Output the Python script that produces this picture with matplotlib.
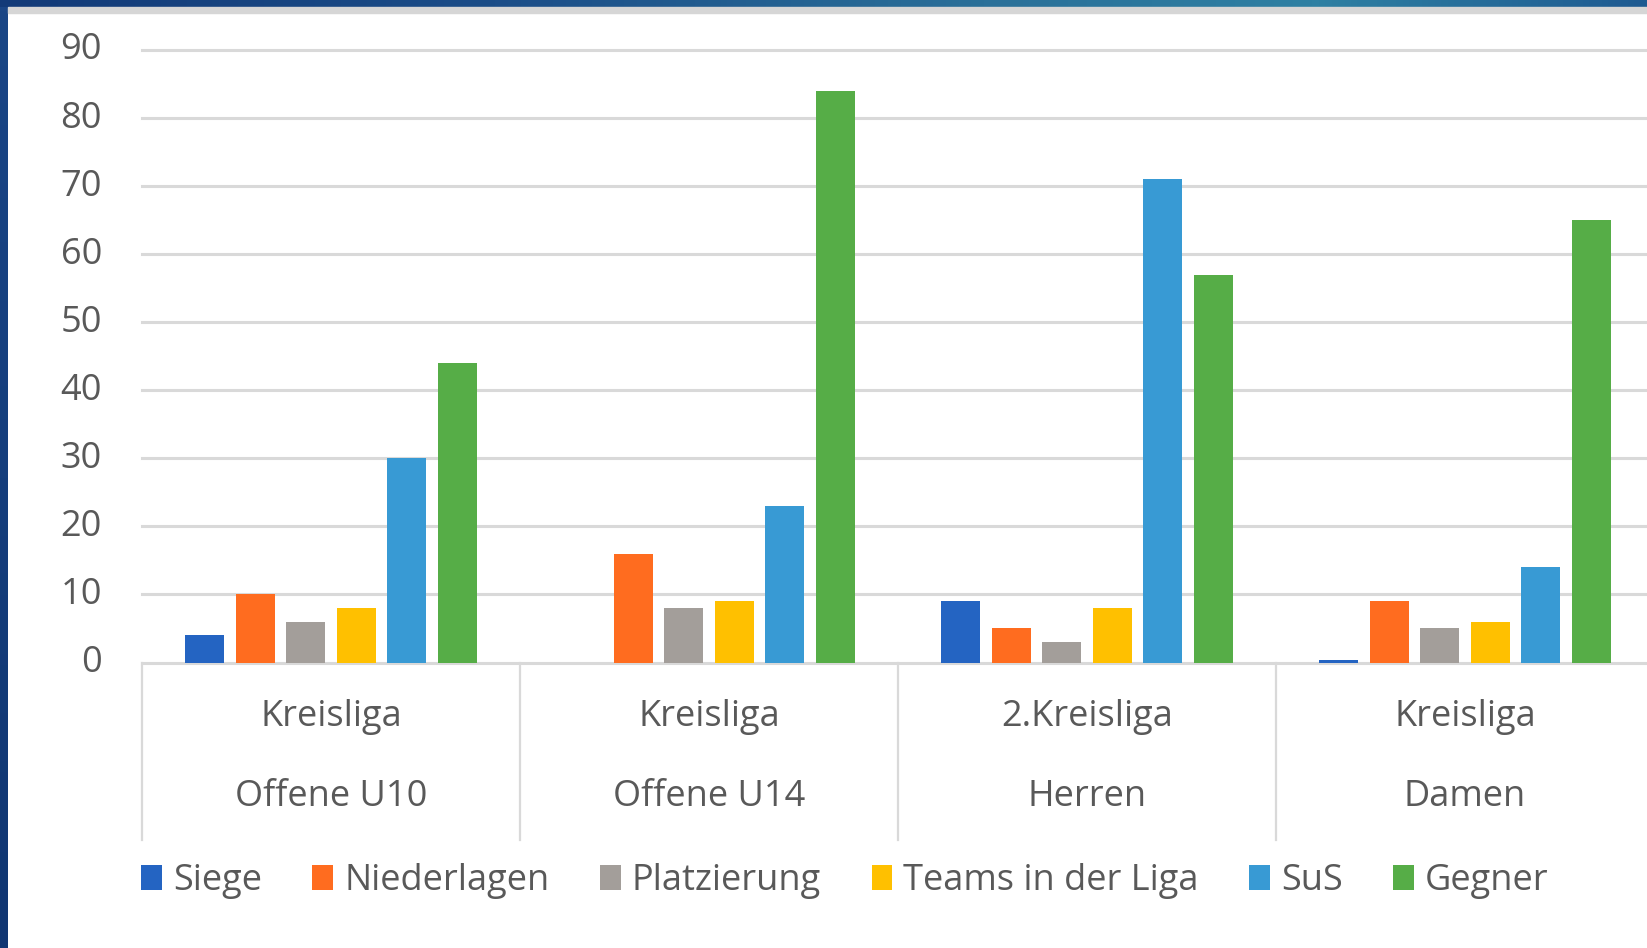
import matplotlib
matplotlib.use("Agg")
import matplotlib.pyplot as plt
import numpy as np
from matplotlib.patches import Rectangle, Patch
from matplotlib.colors import LinearSegmentedColormap
import matplotlib.transforms as mtransforms

# ---------------- data ----------------
league = ["Kreisliga", "Kreisliga", "2.Kreisliga", "Kreisliga"]
team = ["Offene U10", "Offene U14", "Herren", "Damen"]
series_names = ["Siege", "Niederlagen", "Platzierung", "Teams in der Liga", "SuS", "Gegner"]
siege = [4, 0, 9, 0.3]
niederlagen = [10, 16, 5, 9]
platzierung = [6, 8, 3, 5]
teams_in_liga = [8, 9, 8, 6]
sus = [30, 23, 71, 14]
gegner = [44, 84, 57, 65]
y_ticks = [0, 10, 20, 30, 40, 50, 60, 70, 80, 90]

colors = ["#2464C2", "#FF6C1F", "#A39E9A", "#FFC000", "#389AD4", "#56AD47"]

plt.rcParams['font.family'] = ['Open Sans', 'DejaVu Sans']

W, H = 1647, 948
fig = plt.figure(figsize=(W / 100, H / 100), dpi=100)
fig.patch.set_facecolor('white')

TEXT = '#595959'
GRID = '#D9D9D9'
FS = 26

# axes geometry (pixels)
x0, x1 = 142, 1654
y_zero, y_top = 662.5, 50
ax = fig.add_axes([x0 / W, (H - y_zero) / H, (x1 - x0) / W, (y_zero - y_top) / H])
ax.set_facecolor('none')

values = [siege, niederlagen, platzierung, teams_in_liga, sus, gegner]
x = np.arange(len(team))
n = len(values)
step, width = 0.1336, 0.103
for i, (vals, col, name) in enumerate(zip(values, colors, series_names)):
    ax.bar(x + (i - (n - 1) / 2) * step, vals, width, color=col, label=name, zorder=3)

ax.set_xlim(-0.5, 3.5)
ax.set_ylim(0, 90)
ax.set_yticks(y_ticks)
ax.set_xticks([])
for s in ax.spines.values():
    s.set_visible(False)
ax.yaxis.grid(True, color=GRID, lw=2.2)
for gl in ax.yaxis.get_gridlines():
    gl.set_clip_on(False)
ax.set_axisbelow(True)
ax.tick_params(axis='y', length=0, pad=28.8, labelsize=FS, labelcolor=TEXT)
off = mtransforms.ScaledTranslation(0, 0.04, fig.dpi_scale_trans)
for lbl in ax.get_yticklabels():
    lbl.set_transform(lbl.get_transform() + off)

# category axis (two-level)
trans = mtransforms.blended_transform_factory(ax.transData, ax.transAxes)
ah = y_zero - y_top
for b in np.arange(-0.5, len(team), 1.0):
    ax.plot([b, b], [0, -(840 - y_zero) / ah], transform=trans, color=GRID,
            lw=1.6, clip_on=False, zorder=1)
for i, (l1, l2) in enumerate(zip(league, team)):
    ax.text(i, -(717 - y_zero) / ah, l1, transform=trans, ha='center', va='center',
            fontsize=FS, color=TEXT)
    ax.text(i, -(797 - y_zero) / ah, l2, transform=trans, ha='center', va='center',
            fontsize=FS, color=TEXT)

# legend
handles = [Patch(facecolor=c, edgecolor='none') for c in colors]
leg = fig.legend(handles, series_names, loc='center left', bbox_to_anchor=(141 / W, 1 - 881 / H),
                 ncol=6, frameon=False, fontsize=FS, handlelength=0.58, handleheight=0.7,
                 handletextpad=0.3, columnspacing=1.4, borderpad=0, borderaxespad=0,
                 labelcolor=TEXT)

# decorative frame: top gradient band, left band, grey strip
cmap_top = LinearSegmentedColormap.from_list('top', [(0, '#123a78'), (0.3, '#1b4d88'),
                                                     (0.6, '#2a7099'), (0.8, '#2e80a3'),
                                                     (1.0, '#1e5a91')])
axt = fig.add_axes([0, 1 - 7 / H, 1, 7 / H])
axt.imshow(np.linspace(0, 1, 512)[None, :], aspect='auto', cmap=cmap_top, extent=[0, 1, 0, 1])
axt.axis('off')
cmap_left = LinearSegmentedColormap.from_list('left', ['#103672', '#1a4686'])
axl = fig.add_axes([0, 0, 8 / W, 1 - 7 / H])
axl.imshow(np.linspace(0, 1, 256)[:, None], aspect='auto', cmap=cmap_left, extent=[0, 1, 0, 1],
           origin='lower')
axl.axis('off')
fig.patches.append(Rectangle((8 / W, 1 - 13 / H), 1, 6 / H, transform=fig.transFigure,
                             color='#D6D6D6', zorder=0))

fig.savefig('out.png', dpi=100)
